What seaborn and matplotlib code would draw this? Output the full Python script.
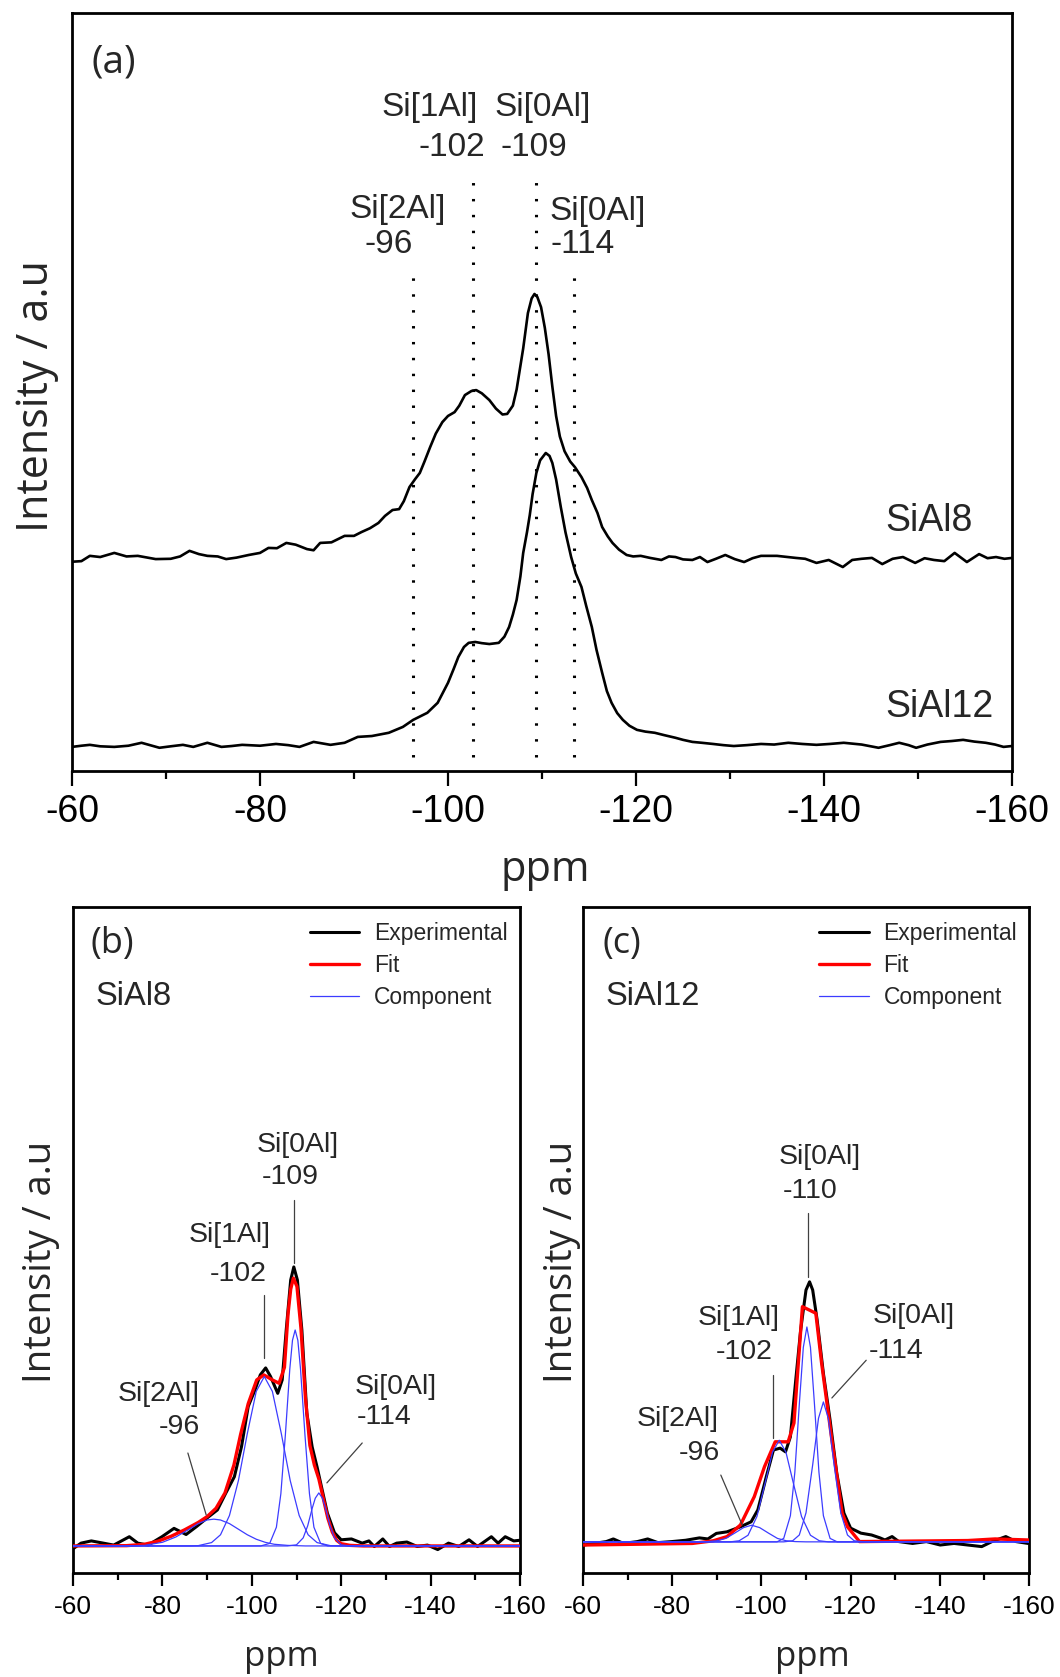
import numpy as np
import pandas as pd
import matplotlib
matplotlib.use("Agg")
import matplotlib.pyplot as plt
from matplotlib.lines import Line2D
import seaborn as sns

# ---------------- data ----------------
# panel (a): stacked experimental spectra
A_SIAL8_PPM = [-60, -61, -61.9, -63, -64.5, -65.8, -67, -68.9, -70.5, -71.5, -72.5, -73.5, -74.4, -75.5,
               -76.4, -77.5, -78.8, -80, -80.9, -81.8, -82.8, -83.8, -85, -85.7, -86.4, -87.6, -89, -90,
               -90.8, -91.7, -92.6, -93.3, -94.1, -94.8, -95.3, -95.9, -96.5, -97, -97.5, -98.1, -98.7,
               -99.4, -100, -100.7, -101.2, -101.8, -102.5, -103, -103.6, -104.4, -105.1, -105.8, -106.3,
               -106.9, -107.3, -107.6, -108, -108.5, -108.9, -109.2, -109.5, -109.9, -110.3, -110.7,
               -111.1, -111.5, -111.9, -112.4, -113, -113.5, -114.2, -114.8, -115.3, -115.9, -116.4, -117,
               -117.5, -118.2, -119, -119.7, -120.5, -121.5, -122.7, -123.5, -124.2, -125, -126, -126.8,
               -127.6, -128.5, -129.5, -130.5, -131.5, -132.4, -133.3, -135, -137, -138, -139.2, -140.5,
               -142, -143, -144, -145.1, -146.2, -147.3, -148.4, -149.7, -150.7, -151.7, -152.8, -153.9,
               -155.2, -156.5, -157.4, -158.3, -159.2, -160]
A_SIAL8_INT = [-0.006, -0.004, 0.014, 0.010, 0.024, 0.012, 0.014, 0.003, 0.004, 0.012, 0.031, 0.020, 0.014,
               0.012, 0.003, 0.008, 0.017, 0.024, 0.041, 0.040, 0.058, 0.052, 0.037, 0.033, 0.058, 0.060,
               0.082, 0.082, 0.095, 0.108, 0.126, 0.150, 0.170, 0.173, 0.200, 0.248, 0.275, 0.296, 0.335,
               0.384, 0.430, 0.469, 0.490, 0.503, 0.525, 0.561, 0.575, 0.578, 0.567, 0.544, 0.515, 0.495,
               0.497, 0.525, 0.580, 0.640, 0.720, 0.840, 0.890, 0.905, 0.895, 0.860, 0.790, 0.700, 0.590,
               0.490, 0.420, 0.370, 0.335, 0.316, 0.282, 0.245, 0.204, 0.160, 0.112, 0.080, 0.058, 0.035,
               0.017, 0.012, 0.014, 0.007, 0.0, 0.012, 0.010, 0.002, 0.0, 0.010, -0.007, 0.004, 0.017,
               0.003, -0.007, 0.006, 0.014, 0.014, 0.007, 0.004, -0.010, 0.0, -0.024, 0.0, 0.004, 0.007,
               -0.014, 0.004, 0.010, -0.010, 0.006, 0.0, -0.004, 0.024, -0.007, 0.020, 0.006, 0.010, 0.004,
               0.007]
A_SIAL12_PPM = [-60, -61, -61.9, -63, -64.5, -66, -67.4, -69.3, -70.5, -71.8, -72.9, -74.4, -75.9, -77,
                -78.1, -80, -81.7, -83, -84.2, -85.7, -87.5, -89, -90.4, -91.9, -93.7, -95.2, -96.3, -97.8,
                -98.9, -100, -100.6, -101.1, -101.7, -102.2, -102.9, -103.6, -104.4, -105.4, -106,
                -106.5, -106.9, -107.3, -107.7, -108, -108.4, -108.7, -109, -109.4, -109.8, -110.4,
                -110.8, -111.1, -111.5, -112, -112.5, -113.1, -113.6, -114.2, -114.7, -115.3, -115.8,
                -116.4, -116.9, -117.4, -118, -118.6, -119.3, -120.1, -121, -122, -123, -124.2, -125,
                -126, -127, -128.2, -129.3, -130.4, -131.8, -133.3, -134.7, -136.2, -137.7, -139.2, -140.6,
                -142.1, -144, -145.8, -147, -148, -149, -149.8, -151, -152.4, -153.6, -154.8, -156,
                -157.2, -158.2, -159.1, -160]
A_SIAL12_INT = [0, 0.004, 0.007, 0.002, 0, 0.004, 0.014, -0.003, 0.002, 0.007, 0, 0.014, 0, 0.003, 0.007,
                0.004, 0.010, 0.006, 0, 0.017, 0.007, 0.014, 0.034, 0.037, 0.048, 0.068, 0.092, 0.116, 0.150,
                0.218, 0.265, 0.306, 0.340, 0.354, 0.357, 0.353, 0.350, 0.354, 0.375, 0.408, 0.450, 0.500,
                0.580, 0.660, 0.730, 0.789, 0.860, 0.932, 0.975, 1.000, 0.990, 0.966, 0.910, 0.816, 0.730,
                0.646, 0.590, 0.544, 0.480, 0.408, 0.330, 0.252, 0.190, 0.150, 0.115, 0.092, 0.072, 0.058,
                0.052, 0.048, 0.040, 0.031, 0.024, 0.017, 0.014, 0.010, 0.006, 0.003, 0.006, 0.010, 0.008,
                0.014, 0.010, 0.007, 0.010, 0.014, 0.008, -0.003, 0.006, 0.014, 0.006, -0.003, 0.008, 0.017,
                0.020, 0.024, 0.018, 0.014, 0.008, 0, 0.003]
A_SIAL8_OFFSET = 0.636
A_REF_PPM = [-96.3, -102.7, -109.4, -113.4]
A_REF_TOP = [1.633, 1.939, 1.939, 1.633]
A_REF_NAME = ["Si[2Al]", "Si[1Al]", "Si[0Al]", "Si[0Al]"]
A_REF_SHIFT = ["-96", "-102", "-109", "-114"]

# panel (b): SiAl8 deconvolution
B_EXP_PPM = [-60.2, -61.8, -64.1, -66.8, -69.1, -72.6, -74.5, -76.8, -79.9, -82.6, -85.3, -87.6, -89.9,
             -92.3, -94.2, -96.1, -97.7, -99.2, -100.7, -101.9, -103.1, -104.2, -105.8, -106.8, -107.7,
             -108.7, -109.4, -110.2, -111.2, -112.3, -113.5, -114.6, -115.6, -116.9, -118.5, -120, -122.3,
             -124.7, -126.2, -127.4, -129.3, -130.8, -132.4, -134.7, -137, -139.3, -141.6, -144, -146.3,
             -148.6, -150.5, -153.6, -155.1, -156.7, -158.6, -159.8]
B_EXP_INT = [-0.008, 0.010, 0.018, 0.010, 0.003, 0.033, 0.010, 0.003, 0.033, 0.063, 0.041, 0.069, 0.099,
             0.129, 0.19, 0.248, 0.356, 0.5, 0.559, 0.613, 0.638, 0.607, 0.547, 0.595, 0.774, 0.953, 1.0,
             0.953, 0.774, 0.477, 0.355, 0.283, 0.211, 0.118, 0.047, 0.022, 0.025, 0.010, 0.018, -0.002,
             0.025, -0.002, 0.010, 0.014, -0.002, 0.003, -0.013, 0.010, -0.002, 0.022, -0.002, 0.033, 0.010,
             0.033, 0.018, 0.020]
B_FIT_PPM = [-60, -72, -76, -79, -82, -85, -88, -90, -92, -94, -96, -97.5, -99.2, -101.1, -102.7, -104.6,
             -106.1, -107.3, -108.1, -108.7, -109.3, -110.1, -111, -112, -113, -114, -115, -116, -117, -118,
             -119, -120, -122, -125, -160]
B_FIT_INT = [0, 0.001, 0.006, 0.017, 0.035, 0.058, 0.084, 0.105, 0.135, 0.19, 0.29, 0.4, 0.51, 0.595,
             0.613, 0.595, 0.583, 0.64, 0.83, 0.92, 0.96, 0.93, 0.78, 0.53, 0.36, 0.29, 0.24, 0.17, 0.10,
             0.05, 0.02, 0.008, 0.002, 0, 0]
B_C1_PPM = [-60, -72, -76, -80, -83, -86, -88, -90, -91.5, -93, -95, -97, -99, -101, -103, -105, -108, -112, -160]
B_C1_INT = [0, 0, 0.002, 0.013, 0.032, 0.060, 0.080, 0.093, 0.096, 0.093, 0.080, 0.060, 0.040, 0.024,
            0.013, 0.006, 0.002, 0, 0]
B_C2_PPM = [-60, -86, -88, -91, -93, -95, -97, -99, -101, -102.8, -104.6, -106.6, -108.6, -110.6, -112.6,
            -114.6, -117.6, -120, -160]
B_C2_INT = [0, 0, 0.001, 0.012, 0.040, 0.109, 0.234, 0.403, 0.554, 0.607, 0.554, 0.403, 0.234, 0.109,
            0.040, 0.012, 0.001, 0, 0]
B_C3_PPM = [-60, -102, -104, -105.5, -106.5, -107.5, -108.5, -109.1, -109.7, -110.3, -110.9, -111.9,
            -112.9, -113.9, -115.4, -117, -160]
B_C3_INT = [0, 0, 0.009, 0.067, 0.187, 0.396, 0.634, 0.737, 0.774, 0.737, 0.634, 0.396, 0.187, 0.067,
            0.009, 0, 0]
B_C4_PPM = [-60, -108, -110, -111.5, -112.5, -113.5, -114.2, -115, -115.8, -116.5, -117.5, -118.5, -120, -122, -160]
B_C4_INT = [0, 0, 0.004, 0.029, 0.072, 0.134, 0.171, 0.19, 0.171, 0.134, 0.072, 0.029, 0.004, 0, 0]

# panel (c): SiAl12 deconvolution
C_EXP_PPM = [-60.2, -62.5, -65.2, -66.8, -69.1, -72.2, -74.5, -76.8, -79.9, -83, -86.1, -88, -89.9, -92.3,
             -95.3, -97.7, -99.2, -101.1, -102.7, -104.2, -105.4, -106.5, -107.7, -108.8, -110, -110.8,
             -111.5, -112.5, -113.9, -115.4, -116.9, -118.5, -120, -122.3, -124.7, -126.6, -127.7, -129.3,
             -130.8, -133.9, -137, -140.1, -143.2, -146.3, -149.4, -151.7, -154.8, -157.1, -159.8]
C_EXP_INT = [0, 0.006, 0.013, 0.023, 0.006, 0.013, 0.023, 0.009, 0.013, 0.018, 0.027, 0.023, 0.044, 0.050,
             0.069, 0.088, 0.133, 0.259, 0.36, 0.367, 0.353, 0.41, 0.625, 0.814, 0.966, 0.997, 0.966, 0.852,
             0.65, 0.473, 0.272, 0.121, 0.064, 0.045, 0.038, 0.027, 0.019, 0.032, 0.013, 0.006, 0.013, 0,
             0.006, 0, -0.006, 0.013, 0.032, 0.013, 0.006]
C_FIT_PPM = [-60, -84.5, -89.2, -92.3, -95.3, -98.4, -100.7, -103.1, -106, -107.3, -109.2, -112.2, -113.5,
             -115.8, -118.1, -119.3, -122, -146.3, -152.4, -160]
C_FIT_INT = [0, 0.006, 0.016, 0.032, 0.076, 0.183, 0.297, 0.391, 0.391, 0.462, 0.903, 0.878, 0.689, 0.398,
             0.121, 0.069, 0.013, 0.017, 0.023, 0.019]
C_C1_PPM = [-60, -86, -88, -90, -92, -94, -96, -97.8, -99.6, -101.6, -103.6, -105.6, -107.6, -110, -160]
C_C1_INT = [0, 0, 0.001, 0.004, 0.013, 0.033, 0.054, 0.063, 0.054, 0.033, 0.013, 0.004, 0.001, 0, 0]
C_C2_PPM = [-60, -93, -95, -97, -99, -101, -102.5, -104, -105.5, -107, -109, -111, -113, -115, -160]
C_C2_INT = [0, 0, 0.004, 0.025, 0.096, 0.234, 0.34, 0.385, 0.34, 0.234, 0.096, 0.025, 0.004, 0, 0]
C_C3_PPM = [-60, -103.5, -105, -106.5, -107.5, -108.5, -109.4, -110.2, -111, -111.9, -112.9, -113.9, -115.4, -117, -160]
C_C3_INT = [0, 0, 0.013, 0.099, 0.264, 0.521, 0.737, 0.814, 0.737, 0.521, 0.264, 0.099, 0.013, 0, 0]
C_C4_PPM = [-60, -105, -107, -108.5, -110, -111.5, -112.8, -113.9, -115, -116.3, -117.8, -119.3, -120.8, -123, -160]
C_C4_INT = [0, 0, 0.004, 0.026, 0.110, 0.292, 0.468, 0.53, 0.468, 0.292, 0.110, 0.026, 0.004, 0, 0]
C_COMP_BASE = 0.012

X_TICKS = [-60, -80, -100, -120, -140, -160]
X_TICK_LABELS = ["-60", "-80", "-100", "-120", "-140", "-160"]
LEGEND_LABELS = ["Experimental", "Fit", "Component"]

# ---------------- style ----------------
sns.set_style("ticks")
plt.rcParams["font.family"] = ["Liberation Sans", "DejaVu Sans"]
plt.rcParams["axes.linewidth"] = 2.0
LABEL_FONT = ["Open Sans", "DejaVu Sans"]
BLUE = "#3c3cff"
RED = "#ff0000"

W, H = 1060, 1677
fig = plt.figure(figsize=(W / 100, H / 100), dpi=100)


def px_axes(left, top, right, bottom):
    return fig.add_axes([left / W, 1 - bottom / H, (right - left) / W, (bottom - top) / H])


def style_axes(ax, tick_fs, major_len, minor_len, pad):
    ax.set_xlim(-60, -160)
    ax.set_xticks(X_TICKS)
    ax.set_xticklabels(X_TICK_LABELS)
    ax.set_xticks(np.arange(-70, -160, -20), minor=True)
    ax.tick_params(axis="x", which="major", direction="out", length=major_len, width=1.6,
                   labelsize=tick_fs, pad=pad, color="black", labelcolor="black")
    ax.tick_params(axis="x", which="minor", direction="out", length=minor_len, width=1.6, color="black")
    ax.set_yticks([])
    for s in ax.spines.values():
        s.set_visible(True)
        s.set_color("black")
        s.set_linewidth(2.0)
    ax.set_facecolor("white")


def line(ax, x, y, color, lw, offset=0.0, zorder=2):
    df = pd.DataFrame({"ppm": x, "I": np.asarray(y, dtype=float) + offset})
    sns.lineplot(data=df, x="ppm", y="I", ax=ax, color=color, linewidth=lw, sort=False,
                 estimator=None, zorder=zorder, legend=False)


# ---------------- panel (a) ----------------
axa = px_axes(72, 13, 1012, 771)
line(axa, A_SIAL8_PPM, A_SIAL8_INT, "black", 1.9, offset=A_SIAL8_OFFSET)
line(axa, A_SIAL12_PPM, A_SIAL12_INT, "black", 1.9)
axa.vlines(A_REF_PPM, -0.034, A_REF_TOP, colors="black", linewidth=2.2, linestyles=(0, (0.8, 4.4)))
style_axes(axa, 27, 10.5, 5.5, 6)
axa.set_ylim(-0.082, 2.497)
axa.set_xlabel("ppm", fontsize=30, family=LABEL_FONT, va="center")
axa.xaxis.set_label_coords(0.503, -0.131)
axa.set_ylabel("Intensity / a.u", fontsize=31, family=LABEL_FONT, va="center")
axa.yaxis.set_label_coords(-0.037, 0.495)
axa.text(0.044, 0.935, "(a)", transform=axa.transAxes, fontsize=28, family=LABEL_FONT,
         ha="center", va="center")
# peak labels (name over shift)
a_name_pos = [(-94.6, 1.83), (-98.1, 2.177), (-110.1, 2.177), (-115.9, 1.823)]
a_shift_pos = [(-93.7, 1.711), (-100.4, 2.041), (-109.1, 2.041), (-114.3, 1.711)]
for (nx, ny), (sx, sy), nm, sh in zip(a_name_pos, a_shift_pos, A_REF_NAME, A_REF_SHIFT):
    axa.text(nx, ny, nm, fontsize=24, ha="center", va="center")
    axa.text(sx, sy, sh, fontsize=24, ha="center", va="center")
axa.text(-146.5, A_SIAL8_OFFSET + 0.133, "SiAl8", fontsize=27, ha="left", va="center")
axa.text(-146.5, 0.136, "SiAl12", fontsize=27, ha="left", va="center")


# ---------------- panels (b), (c) ----------------
def fit_panel(ax, exp_x, exp_y, fit_x, fit_y, comps, comp_base, ylim, panel, sample, labels):
    line(ax, exp_x, exp_y, "black", 2.2, zorder=3)
    line(ax, fit_x, fit_y, RED, 2.4, zorder=4)
    for cx, cy in comps:
        line(ax, cx, cy, BLUE, 0.9, offset=comp_base, zorder=5)
    style_axes(ax, 19, 9.5, 5, 6)
    ax.set_ylim(*ylim)
    ax.set_xlabel("ppm", fontsize=25, family=LABEL_FONT, va="center")
    ax.xaxis.set_label_coords(0.466 if panel == "(b)" else 0.515, -0.126)
    ax.set_ylabel("Intensity / a.u", fontsize=27.5, family=LABEL_FONT, va="center")
    ax.text(0.088, 0.945, panel, transform=ax.transAxes, fontsize=26, family=LABEL_FONT,
            ha="center", va="center")
    ax.text(0.05, 0.865, sample, transform=ax.transAxes, fontsize=23.5, ha="left", va="center")
    handles = [Line2D([], [], color="black", lw=2.2), Line2D([], [], color=RED, lw=2.4),
               Line2D([], [], color=BLUE, lw=0.9)]
    ax.legend(handles, LEGEND_LABELS, loc="upper left", bbox_to_anchor=(0.53, 0.977), frameon=False,
              fontsize=16.5, handlelength=2.15, handletextpad=0.65, labelspacing=0.38,
              borderpad=0.0, borderaxespad=0.0)
    for nm, sh, npos, spos, l0, l1 in labels:
        ax.text(npos[0], npos[1], nm, fontsize=20.5, ha="center", va="center")
        ax.text(spos[0], spos[1], sh, fontsize=20.5, ha="center", va="center")
        ax.plot([l0[0], l1[0]], [l0[1], l1[1]], color="#404040", lw=0.9, zorder=6)


axb = px_axes(73, 907, 520, 1573)
b_labels = [
    ("Si[0Al]", "-109", (-110.3, 1.437), (-108.5, 1.323), (-109.4, 1.240), (-109.4, 1.014)),
    ("Si[1Al]", "-102", (-95.1, 1.115), (-96.9, 0.975), (-102.7, 0.90), (-102.7, 0.674)),
    ("Si[2Al]", "-96", (-79.2, 0.545), (-83.7, 0.427), (-85.7, 0.333), (-89.8, 0.111)),
    ("Si[0Al]", "-114", (-132.3, 0.570), (-129.6, 0.462), (-124.7, 0.369), (-116.8, 0.226)),
]
fit_panel(axb, B_EXP_PPM, B_EXP_INT, B_FIT_PPM, B_FIT_INT,
          [(B_C1_PPM, B_C1_INT), (B_C2_PPM, B_C2_INT), (B_C3_PPM, B_C3_INT), (B_C4_PPM, B_C4_INT)],
          0.0, (-0.097, 2.29), "(b)", "SiAl8", b_labels)
axb.yaxis.set_label_coords(-0.072, 0.467)

axc = px_axes(583, 907, 1029, 1573)
c_labels = [
    ("Si[0Al]", "-110", (-113.1, 1.47), (-110.9, 1.34), (-110.4, 1.258), (-110.4, 1.015)),
    ("Si[1Al]", "-102", (-95.0, 0.86), (-96.1, 0.731), (-102.6, 0.644), (-102.6, 0.405)),
    ("Si[2Al]", "-96", (-81.3, 0.477), (-86.2, 0.348), (-90.9, 0.265), (-95.7, 0.076)),
    ("Si[0Al]", "-114", (-134.2, 0.867), (-130.2, 0.735), (-123.5, 0.70), (-115.8, 0.557)),
]
fit_panel(axc, C_EXP_PPM, C_EXP_INT, C_FIT_PPM, C_FIT_INT,
          [(C_C1_PPM, C_C1_INT), (C_C2_PPM, C_C2_INT), (C_C3_PPM, C_C3_INT), (C_C4_PPM, C_C4_INT)],
          C_COMP_BASE, (-0.106, 2.417), "(c)", "SiAl12", c_labels)
axc.yaxis.set_label_coords(-0.048, 0.467)

fig.savefig("out.png", dpi=100, facecolor="white")
